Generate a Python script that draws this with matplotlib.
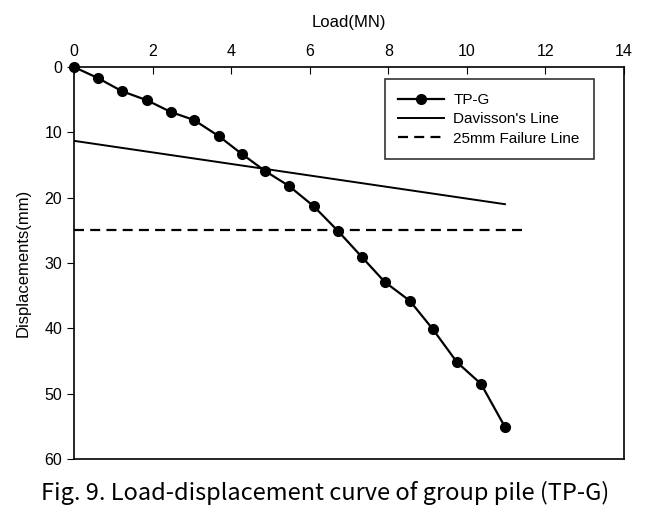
import numpy as np
import matplotlib
matplotlib.use('Agg')
import matplotlib.pyplot as plt

plt.rcParams['font.family'] = ['Liberation Sans', 'DejaVu Sans']

# measured load-settlement points, TP-G
load = [0, 0.61, 1.22, 1.86, 2.47, 3.05, 3.69, 4.27, 4.86, 5.47,
        6.10, 6.72, 7.33, 7.91, 8.55, 9.13, 9.75, 10.36, 10.97]
disp = [0, 1.7, 3.7, 5.1, 6.9, 8.1, 10.6, 13.3, 15.9, 18.2,
        21.3, 25.1, 29.1, 32.9, 35.8, 40.1, 45.2, 48.5, 55.1]

# Davisson's line end points
dav_load = [0, 10.97]
dav_disp = [11.3, 21.0]

# 25mm failure line
fail_load = [0, 11.5]
fail_disp = [25, 25]

fig = plt.figure(figsize=(6.5, 5.19), dpi=100)
ax = fig.add_axes([74/650, 1-459/519, 550/650, 392/519])

ax.plot(load, disp, '-o', color='black', lw=1.6, ms=7, label='TP-G', clip_on=False, zorder=3)
ax.plot(dav_load, dav_disp, '-', color='black', lw=1.4, label="Davisson's Line")
ax.plot(fail_load, fail_disp, '--', color='black', lw=1.6, dashes=(4.5, 2.8),
        label='25mm Failure Line')

ax.set_xlim(0, 14)
ax.set_ylim(60, 0)
ax.set_xticks(np.arange(0, 15, 2))
ax.set_yticks(np.arange(0, 61, 10))
ax.xaxis.tick_top()
ax.xaxis.set_label_position('top')
ax.tick_params(axis='x', direction='in', length=5, labelsize=11.5, pad=6)
ax.tick_params(axis='y', direction='out', length=5, labelsize=11.5)
for s in ax.spines.values():
    s.set_linewidth(1.2)
ax.set_xlabel('Load(MN)', fontsize=12, labelpad=12)
ax.set_ylabel('Displacements(mm)', fontsize=12, labelpad=10)

leg = ax.legend(loc='upper right', bbox_to_anchor=(0.9585, 0.9885), fontsize=11,
                frameon=True, fancybox=False, edgecolor='black',
                handlelength=3.0, handletextpad=0.6, borderpad=0.9, labelspacing=0.35)
leg.get_frame().set_linewidth(1.2)

fig.text(0.5, 1-493/519, 'Fig. 9. Load-displacement curve of group pile (TP-G)',
         ha='center', va='center', fontsize=17,
         family=['Noto Sans CJK KR', 'DejaVu Sans'])

fig.savefig('out.png', dpi=100)
